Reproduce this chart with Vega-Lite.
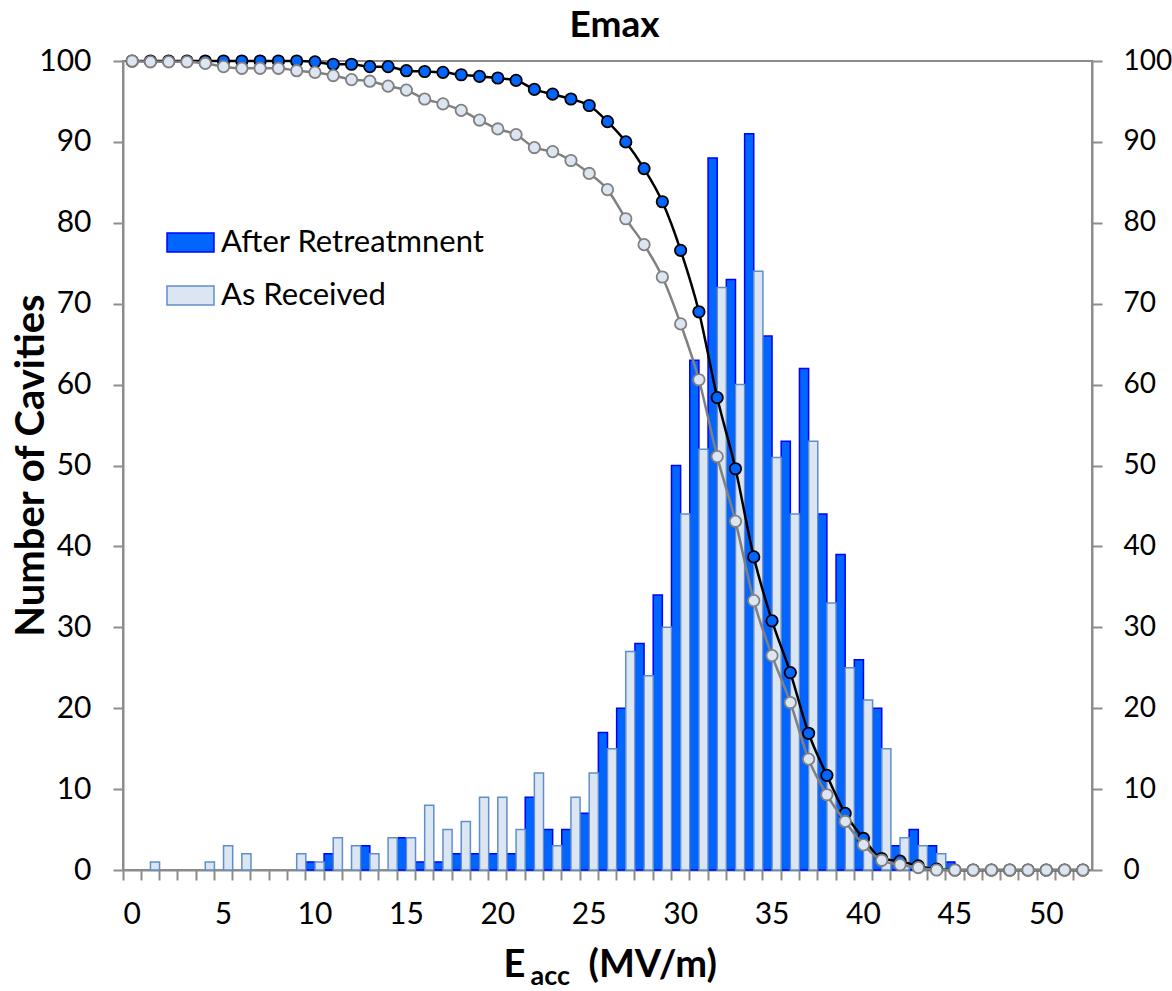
{
  "$schema": "https://vega.github.io/schema/vega-lite/v6.json",
  "width": 969,
  "height": 809,
  "autosize": {"type": "none"},
  "padding": {"left": 123, "top": 61, "right": 80, "bottom": 121},
  "background": "white",
  "config": {
    "font": "Lato",
    "view": {"stroke": "#8c8c8c", "strokeWidth": 2},
    "axis": {"domainColor": "#8c8c8c", "tickColor": "#8c8c8c", "domainWidth": 2, "tickWidth": 2, "labelColor": "black", "titleColor": "black", "labelFont": "Lato", "titleFont": "Lato", "grid": false}
  },
  "title": {"text": "Emax", "fontSize": 37, "fontWeight": "bold", "font": "Lato", "color": "black", "offset": 1, "dx": 7, "anchor": "middle"},
  "datasets": {
    "bars": [
      {"E": 10, "series": "After Retreatmnent", "count": 1},
      {"E": 11, "series": "After Retreatmnent", "count": 2},
      {"E": 13, "series": "After Retreatmnent", "count": 3},
      {"E": 15, "series": "After Retreatmnent", "count": 4},
      {"E": 16, "series": "After Retreatmnent", "count": 1},
      {"E": 17, "series": "After Retreatmnent", "count": 1},
      {"E": 18, "series": "After Retreatmnent", "count": 2},
      {"E": 19, "series": "After Retreatmnent", "count": 2},
      {"E": 20, "series": "After Retreatmnent", "count": 2},
      {"E": 21, "series": "After Retreatmnent", "count": 2},
      {"E": 22, "series": "After Retreatmnent", "count": 9},
      {"E": 23, "series": "After Retreatmnent", "count": 5},
      {"E": 24, "series": "After Retreatmnent", "count": 5},
      {"E": 25, "series": "After Retreatmnent", "count": 7},
      {"E": 26, "series": "After Retreatmnent", "count": 17},
      {"E": 27, "series": "After Retreatmnent", "count": 20},
      {"E": 28, "series": "After Retreatmnent", "count": 28},
      {"E": 29, "series": "After Retreatmnent", "count": 34},
      {"E": 30, "series": "After Retreatmnent", "count": 50},
      {"E": 31, "series": "After Retreatmnent", "count": 63},
      {"E": 32, "series": "After Retreatmnent", "count": 88},
      {"E": 33, "series": "After Retreatmnent", "count": 73},
      {"E": 34, "series": "After Retreatmnent", "count": 91},
      {"E": 35, "series": "After Retreatmnent", "count": 66},
      {"E": 36, "series": "After Retreatmnent", "count": 53},
      {"E": 37, "series": "After Retreatmnent", "count": 62},
      {"E": 38, "series": "After Retreatmnent", "count": 44},
      {"E": 39, "series": "After Retreatmnent", "count": 39},
      {"E": 40, "series": "After Retreatmnent", "count": 26},
      {"E": 41, "series": "After Retreatmnent", "count": 20},
      {"E": 42, "series": "After Retreatmnent", "count": 3},
      {"E": 43, "series": "After Retreatmnent", "count": 5},
      {"E": 44, "series": "After Retreatmnent", "count": 3},
      {"E": 45, "series": "After Retreatmnent", "count": 1},
      {"E": 1, "series": "As Received", "count": 1},
      {"E": 4, "series": "As Received", "count": 1},
      {"E": 5, "series": "As Received", "count": 3},
      {"E": 6, "series": "As Received", "count": 2},
      {"E": 9, "series": "As Received", "count": 2},
      {"E": 10, "series": "As Received", "count": 1},
      {"E": 11, "series": "As Received", "count": 4},
      {"E": 12, "series": "As Received", "count": 3},
      {"E": 13, "series": "As Received", "count": 2},
      {"E": 14, "series": "As Received", "count": 4},
      {"E": 15, "series": "As Received", "count": 4},
      {"E": 16, "series": "As Received", "count": 8},
      {"E": 17, "series": "As Received", "count": 5},
      {"E": 18, "series": "As Received", "count": 6},
      {"E": 19, "series": "As Received", "count": 9},
      {"E": 20, "series": "As Received", "count": 9},
      {"E": 21, "series": "As Received", "count": 5},
      {"E": 22, "series": "As Received", "count": 12},
      {"E": 23, "series": "As Received", "count": 3},
      {"E": 24, "series": "As Received", "count": 9},
      {"E": 25, "series": "As Received", "count": 12},
      {"E": 26, "series": "As Received", "count": 15},
      {"E": 27, "series": "As Received", "count": 27},
      {"E": 28, "series": "As Received", "count": 24},
      {"E": 29, "series": "As Received", "count": 30},
      {"E": 30, "series": "As Received", "count": 44},
      {"E": 31, "series": "As Received", "count": 52},
      {"E": 32, "series": "As Received", "count": 72},
      {"E": 33, "series": "As Received", "count": 60},
      {"E": 34, "series": "As Received", "count": 74},
      {"E": 35, "series": "As Received", "count": 51},
      {"E": 36, "series": "As Received", "count": 44},
      {"E": 37, "series": "As Received", "count": 53},
      {"E": 38, "series": "As Received", "count": 33},
      {"E": 39, "series": "As Received", "count": 25},
      {"E": 40, "series": "As Received", "count": 21},
      {"E": 41, "series": "As Received", "count": 15},
      {"E": 42, "series": "As Received", "count": 4},
      {"E": 43, "series": "As Received", "count": 3},
      {"E": 44, "series": "As Received", "count": 2}
    ],
    "cum": [
      {"E": 0, "after": 100, "received": 100},
      {"E": 1, "after": 100, "received": 99.9},
      {"E": 2, "after": 100, "received": 99.9},
      {"E": 3, "after": 100, "received": 99.9},
      {"E": 4, "after": 100, "received": 99.7},
      {"E": 5, "after": 100, "received": 99.3},
      {"E": 6, "after": 100, "received": 99.1},
      {"E": 7, "after": 100, "received": 99.1},
      {"E": 8, "after": 100, "received": 99.1},
      {"E": 9, "after": 100, "received": 98.8},
      {"E": 10, "after": 99.9, "received": 98.6},
      {"E": 11, "after": 99.6, "received": 98.2},
      {"E": 12, "after": 99.6, "received": 97.7},
      {"E": 13, "after": 99.3, "received": 97.5},
      {"E": 14, "after": 99.3, "received": 96.9},
      {"E": 15, "after": 98.8, "received": 96.4},
      {"E": 16, "after": 98.7, "received": 95.3},
      {"E": 17, "after": 98.6, "received": 94.7},
      {"E": 18, "after": 98.3, "received": 93.9},
      {"E": 19, "after": 98.1, "received": 92.7},
      {"E": 20, "after": 97.9, "received": 91.6},
      {"E": 21, "after": 97.6, "received": 90.9},
      {"E": 22, "after": 96.5, "received": 89.3},
      {"E": 23, "after": 95.9, "received": 88.8},
      {"E": 24, "after": 95.3, "received": 87.7},
      {"E": 25, "after": 94.5, "received": 86.1},
      {"E": 26, "after": 92.5, "received": 84.1},
      {"E": 27, "after": 90.0, "received": 80.5},
      {"E": 28, "after": 86.7, "received": 77.3},
      {"E": 29, "after": 82.6, "received": 73.3},
      {"E": 30, "after": 76.6, "received": 67.5},
      {"E": 31, "after": 69.0, "received": 60.6},
      {"E": 32, "after": 58.4, "received": 51.1},
      {"E": 33, "after": 49.6, "received": 43.1},
      {"E": 34, "after": 38.7, "received": 33.3},
      {"E": 35, "after": 30.8, "received": 26.5},
      {"E": 36, "after": 24.4, "received": 20.7},
      {"E": 37, "after": 16.9, "received": 13.7},
      {"E": 38, "after": 11.7, "received": 9.3},
      {"E": 39, "after": 7.0, "received": 6.0},
      {"E": 40, "after": 3.9, "received": 3.1},
      {"E": 41, "after": 1.4, "received": 1.2},
      {"E": 42, "after": 1.1, "received": 0.65},
      {"E": 43, "after": 0.5, "received": 0.3},
      {"E": 44, "after": 0.1, "received": 0},
      {"E": 45, "after": 0, "received": 0},
      {"E": 46, "after": 0, "received": 0},
      {"E": 47, "after": 0, "received": 0},
      {"E": 48, "after": 0, "received": 0},
      {"E": 49, "after": 0, "received": 0},
      {"E": 50, "after": 0, "received": 0},
      {"E": 51, "after": 0, "received": 0},
      {"E": 52, "after": 0, "received": 0}
    ]
  },
  "layer": [
    {
      "data": {"name": "bars"},
      "mark": {"type": "bar", "strokeWidth": 1.5},
      "encoding": {
        "x": {"field": "E", "type": "ordinal",
          "scale": {"domain": [0,1,2,3,4,5,6,7,8,9,10,11,12,13,14,15,16,17,18,19,20,21,22,23,24,25,26,27,28,29,30,31,32,33,34,35,36,37,38,39,40,41,42,43,44,45,46,47,48,49,50,51,52], "paddingInner": 0, "paddingOuter": 0},
          "axis": {"orient": "bottom", "values": [0,5,10,15,20,25,30,35,40,45,50], "ticks": false, "labelAngle": 0, "labelFontSize": 30, "labelPadding": 29, "domain": true, "title": "E", "titleFontSize": 38, "titleFontWeight": "bold", "titleX": 380, "titleY": 106, "titleAlign": "left", "titleBaseline": "alphabetic"}},
        "xOffset": {"field": "series", "type": "nominal", "scale": {"domain": ["After Retreatmnent", "As Received"], "paddingInner": 0, "paddingOuter": 0}},
        "y": {"field": "count", "type": "quantitative", "scale": {"domain": [0, 100], "nice": false},
          "axis": {"orient": "left", "values": [0,10,20,30,40,50,60,70,80,90,100], "tickSize": 10, "labelFontSize": 30, "labelPadding": 22, "title": "Number of Cavities", "titleFontSize": 40, "titleFontWeight": "bold", "titleX": -92, "titleY": 404, "titleAngle": 270, "titleBaseline": "middle", "titleAlign": "center"}},
        "fill": {"field": "series", "type": "nominal", "scale": {"domain": ["After Retreatmnent", "As Received"], "range": ["#0066FF", "#DCE6F2"]},
          "legend": {"orient": "none", "legendX": 43, "legendY": 157, "title": null, "symbolType": "M-1,-0.4H1V0.4H-1Z", "symbolSize": 2209, "symbolStrokeWidth": 1.5, "labelFontSize": 31, "labelFont": "Lato", "labelColor": "black", "labelOffset": 6, "labelLimit": 500, "rowPadding": 13}},
        "stroke": {"field": "series", "type": "nominal", "scale": {"domain": ["After Retreatmnent", "As Received"], "range": ["#0000FF", "#5F8FCB"]},
          "legend": {"orient": "none", "legendX": 43, "legendY": 157, "title": null, "symbolType": "M-1,-0.4H1V0.4H-1Z", "symbolSize": 2209, "symbolStrokeWidth": 1.5, "labelFontSize": 31, "labelFont": "Lato", "labelColor": "black", "labelOffset": 6, "labelLimit": 500, "rowPadding": 13}}
      }
    },
    {
      "data": {"name": "cum"},
      "mark": {"type": "line", "color": "black", "strokeWidth": 2.5, "interpolate": "monotone"},
      "encoding": {
        "x": {"field": "E", "type": "ordinal",
          "scale": {"domain": [0,1,2,3,4,5,6,7,8,9,10,11,12,13,14,15,16,17,18,19,20,21,22,23,24,25,26,27,28,29,30,31,32,33,34,35,36,37,38,39,40,41,42,43,44,45,46,47,48,49,50,51,52], "paddingInner": 0, "paddingOuter": 0},
          "axis": {"orient": "bottom", "bandPosition": 0, "labels": false, "domain": false, "ticks": true, "tickSize": 10, "title": "acc", "titleFontSize": 27, "titleFontWeight": "bold", "titleX": 407, "titleY": 114, "titleAlign": "left", "titleBaseline": "alphabetic"}},
        "y": {"field": "after", "type": "quantitative", "scale": {"domain": [0, 100], "nice": false},
          "axis": {"orient": "right", "values": [0,10,20,30,40,50,60,70,80,90,100], "tickSize": 10, "labelFontSize": 28, "labelPadding": 21, "title": null}}
      }
    },
    {
      "data": {"name": "cum"},
      "mark": {"type": "point", "filled": true, "fill": "#0066FF", "stroke": "black", "strokeWidth": 1.8, "size": 130, "opacity": 1},
      "encoding": {
        "x": {"field": "E", "type": "ordinal",
          "scale": {"domain": [0,1,2,3,4,5,6,7,8,9,10,11,12,13,14,15,16,17,18,19,20,21,22,23,24,25,26,27,28,29,30,31,32,33,34,35,36,37,38,39,40,41,42,43,44,45,46,47,48,49,50,51,52], "paddingInner": 0, "paddingOuter": 0},
          "axis": {"orient": "bottom", "labels": false, "domain": false, "ticks": false, "title": "(MV/m)", "titleFontSize": 38, "titleFontWeight": "bold", "titleX": 465, "titleY": 106, "titleAlign": "left", "titleBaseline": "alphabetic"}},
        "y": {"field": "after", "type": "quantitative", "scale": {"domain": [0, 100], "nice": false}, "axis": null}
      }
    },
    {
      "data": {"name": "cum"},
      "mark": {"type": "line", "color": "#808080", "strokeWidth": 2.5, "interpolate": "monotone"},
      "encoding": {
        "x": {"field": "E", "type": "ordinal", "axis": null},
        "y": {"field": "received", "type": "quantitative", "scale": {"domain": [0, 100], "nice": false}, "axis": null}
      }
    },
    {
      "data": {"name": "cum"},
      "mark": {"type": "point", "filled": true, "fill": "#DCE6F2", "stroke": "#808080", "strokeWidth": 1.8, "size": 130, "opacity": 1},
      "encoding": {
        "x": {"field": "E", "type": "ordinal", "axis": null},
        "y": {"field": "received", "type": "quantitative", "scale": {"domain": [0, 100], "nice": false}, "axis": null}
      }
    }
  ],
  "resolve": {"axis": {"x": "independent", "y": "independent"}}
}
